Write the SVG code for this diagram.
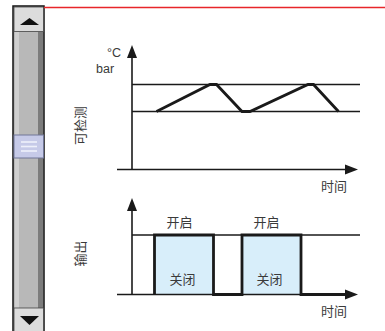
<svg xmlns="http://www.w3.org/2000/svg" width="385" height="331" viewBox="0 0 385 331">
<style>
text{font-family:"Noto Sans CJK SC","Liberation Sans",sans-serif;font-size:13px;fill:#3a3a3a}
text.lat{font-family:"Liberation Sans",Arial,sans-serif;font-size:12.5px}
.ax{stroke:#1a1a1a;stroke-width:1.6;fill:none}
.ln{stroke:#1a1a1a;stroke-width:1.3;fill:none}
.wv{stroke:#1a1a1a;stroke-width:2.8;fill:none;stroke-linejoin:miter}
.ah{fill:#1a1a1a}
</style>
<rect width="385" height="331" fill="#fff"/>
<g id="scrollbar">
<rect x="13" y="6" width="31" height="330" fill="#b8b8b8" stroke="#111" stroke-width="1.5"/>
<rect x="15" y="32" width="4" height="276" fill="#cfcfcf"/>
<rect x="38" y="32" width="5" height="276" fill="#7c7c7c"/>
<rect x="14" y="7" width="29.5" height="24.5" fill="#dcdcdc" stroke="#444" stroke-width="0.8"/>
<polygon points="20,25 39,25 29.5,18" fill="#111"/>
<rect x="14" y="135" width="29.5" height="23" fill="#c6cae8" stroke="#707698" stroke-width="1"/>
<g stroke="#eef0fa" stroke-width="1.6"><line x1="21" y1="142" x2="37" y2="142"/><line x1="21" y1="146.5" x2="37" y2="146.5"/><line x1="21" y1="151" x2="37" y2="151"/></g>
<rect x="14" y="308" width="29.5" height="24" fill="#dcdcdc" stroke="#444" stroke-width="0.8"/>
<polygon points="20,316 39,316 29.5,325" fill="#111"/>
</g>
<line x1="44" y1="7.5" x2="385" y2="7.5" stroke="#e8262a" stroke-width="1.6"/>
<g id="top-chart">
<line class="ax" x1="132" y1="56" x2="132" y2="169.5"/>
<polygon class="ah" points="132,45 127,58 137,58"/>
<line class="ax" x1="117" y1="169.5" x2="347" y2="169.5"/>
<polygon class="ah" points="358,169.5 345,164.5 345,174.5"/>
<line class="ln" x1="132" y1="84.5" x2="360" y2="84.5"/>
<line class="ln" x1="132" y1="111.5" x2="360" y2="111.5"/>
<polyline class="wv" points="156.5,111.5 210,84.5 216.5,84.5 242,111.5 250,111.5 308,84.5 313.5,84.5 338.5,111.5"/>
<text class="lat" x="121" y="56.5" text-anchor="end">°C</text>
<text class="lat" x="96" y="73">bar</text>
<text x="321" y="191">时间</text>
<text transform="translate(84.5,125.5) rotate(-90)" text-anchor="middle">可检测</text>
</g>
<g id="bottom-chart">
<rect x="154.5" y="235" width="59" height="59" fill="#d8eefa"/>
<rect x="242" y="235" width="59" height="59" fill="#d8eefa"/>
<line class="ax" x1="132" y1="209" x2="132" y2="294.5"/>
<polygon class="ah" points="132,198 127,211 137,211"/>
<line class="ax" x1="117" y1="294.5" x2="347" y2="294.5"/>
<polygon class="ah" points="358,294.5 345,289.5 345,299.5"/>
<line class="ln" x1="132" y1="235" x2="360" y2="235"/>
<polyline class="wv" points="154.5,294.5 154.5,235 213.5,235 213.5,294.5 242,294.5 242,235 301,235 301,294.5 346,294.5"/>
<text x="179.5" y="227" text-anchor="middle">开启</text>
<text x="266.5" y="227" text-anchor="middle">开启</text>
<text x="182.5" y="284" text-anchor="middle">关闭</text>
<text x="269.5" y="284" text-anchor="middle">关闭</text>
<text x="321" y="316">时间</text>
<text transform="translate(84.5,253.5) rotate(-90)" text-anchor="middle">输出</text>
</g>
</svg>
